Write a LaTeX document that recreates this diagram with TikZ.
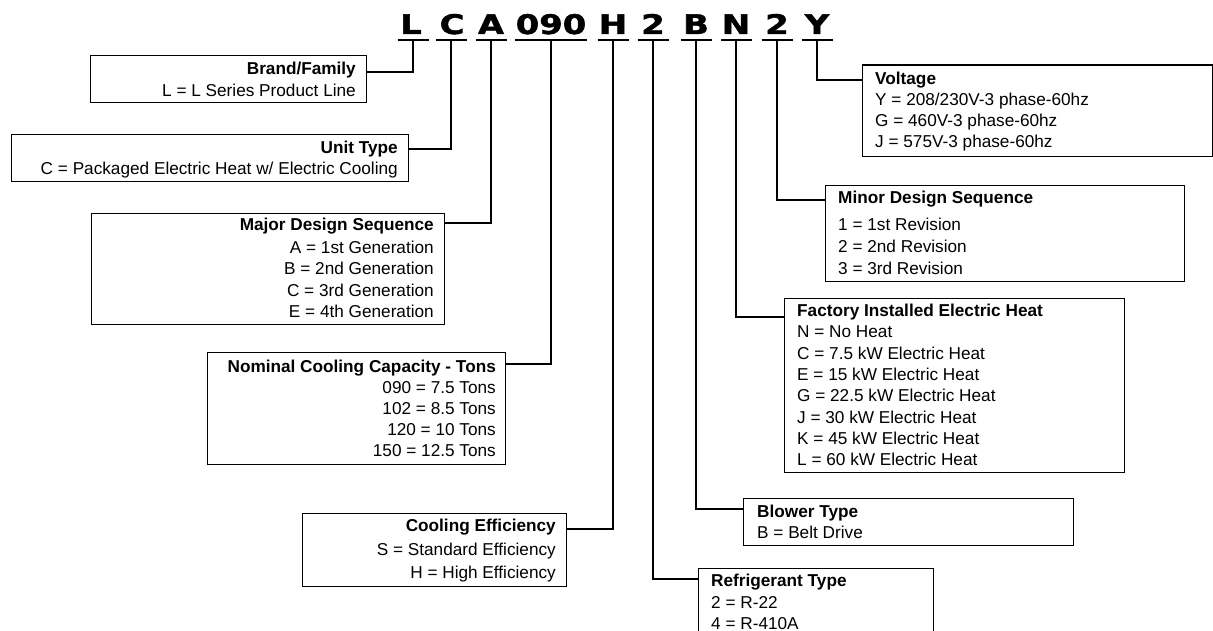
\documentclass[tikz,border=0pt]{standalone}
\usepackage{fontspec}
\setmainfont{Liberation Sans}
\newfontfamily\codefont[BoldFeatures={FakeBold=1.6}]{DejaVu Sans}
\begin{document}
\begin{tikzpicture}[x=1pt,y=-1pt,
  box/.style={draw, line width=1.3pt, rectangle, inner sep=0pt, anchor=north west},
  tl/.style={inner sep=0pt, font=\fontsize{17.2}{20}\selectfont\bfseries},
  rw/.style={inner sep=0pt, font=\fontsize{17.2}{20}\selectfont},
  lt/.style={anchor=base east},
  rt/.style={anchor=base west},
  codeletter/.style={inner sep=0pt, anchor=base, font=\fontsize{27}{30}\selectfont\codefont\bfseries},
  uline/.style={line width=2pt},
  conn/.style={line width=2pt},
]
\useasboundingbox (0,0) rectangle (1213,631);
\clip (0,0) rectangle (1213,631);

% code letters
\node[codeletter] (cL) at (411,34) {\scalebox{1.25}[1]{L}};
\node[codeletter] (cC) at (452,34) {\scalebox{1.25}[1]{C}};
\node[codeletter] (cA) at (491,34) {\scalebox{1.25}[1]{A}};
\node[codeletter] (c090) at (551,34) {\scalebox{1.25}[1]{090}};
\node[codeletter] (cH) at (613,34) {\scalebox{1.25}[1]{H}};
\node[codeletter] (c2a) at (653,34) {\scalebox{1.25}[1]{2}};
\node[codeletter] (cB) at (696,34) {\scalebox{1.25}[1]{B}};
\node[codeletter] (cN) at (736,34) {\scalebox{1.25}[1]{N}};
\node[codeletter] (c2b) at (777,34) {\scalebox{1.25}[1]{2}};
\node[codeletter] (cY) at (817,34) {\scalebox{1.25}[1]{Y}};

% underline anchor points
\coordinate (uL) at (413,40);
\coordinate (uC) at (451,40);
\coordinate (uA) at (491,40);
\coordinate (u090) at (551,40);
\coordinate (uH) at (613,40);
\coordinate (u2a) at (653,40);
\coordinate (uB) at (696,40);
\coordinate (uN) at (736,40);
\coordinate (u2b) at (777,40);
\coordinate (uY) at (817,40);

\foreach \u in {uL,uC,uA,uH,u2a,uB,uN,u2b,uY}{
  \draw[uline] ([xshift=-15.5pt]\u) -- ([xshift=15.5pt]\u);
}
\draw[uline] ([xshift=-36pt]u090) -- ([xshift=36pt]u090);

% boxes left
\node[box, minimum width=276pt, minimum height=47pt] (brand) at (90,55) {};
\node[tl,lt] (brandT) at (356,74.5) {Brand/Family};
\node[rw,lt] (brand1) at (356,96.5) {L = L Series Product Line};

\node[box, minimum width=397pt, minimum height=47pt] (unit) at (11,134) {};
\node[tl,lt] (unitT) at (398,153.5) {Unit Type};
\node[rw,lt] (unit1) at (398,174.5) {C = Packaged Electric Heat w/ Electric Cooling};

\node[box, minimum width=353pt, minimum height=111pt] (major) at (91,213) {};
\node[tl,lt] (majorT) at (434,230.5) {Major Design Sequence};
\node[rw,lt] (major1) at (434,253.5) {A = 1st Generation};
\node[rw,lt] (major2) at (434,274.5) {B = 2nd Generation};
\node[rw,lt] (major3) at (434,296.5) {C = 3rd Generation};
\node[rw,lt] (major4) at (434,317.5) {E = 4th Generation};

\node[box, minimum width=298pt, minimum height=112pt] (nom) at (207,352) {};
\node[tl,lt] (nomT) at (496,372.5) {Nominal Cooling Capacity - Tons};
\node[rw,lt] (nom1) at (496,393.5) {090 = 7.5 Tons};
\node[rw,lt] (nom2) at (496,414.5) {102 = 8.5 Tons};
\node[rw,lt] (nom3) at (496,435.5) {120 = 10 Tons};
\node[rw,lt] (nom4) at (496,456.5) {150 = 12.5 Tons};

\node[box, minimum width=264pt, minimum height=73pt] (eff) at (302,513) {};
\node[tl,lt] (effT) at (556,531.5) {Cooling Efficiency};
\node[rw,lt] (eff1) at (556,555.5) {S = Standard Efficiency};
\node[rw,lt] (eff2) at (556,578.5) {H = High Efficiency};

% boxes right
\node[box, minimum width=350pt, minimum height=91.5pt] (volt) at (862,64.5) {};
\node[tl,rt] (voltT) at (875,84.5) {Voltage};
\node[rw,rt] (volt1) at (875,106) {Y = 208/230V-3 phase-60hz};
\node[rw,rt] (volt2) at (875,127) {G = 460V-3 phase-60hz};
\node[rw,rt] (volt3) at (875,148) {J = 575V-3 phase-60hz};

\node[box, minimum width=359pt, minimum height=96pt] (minor) at (825,185) {};
\node[tl,rt] (minorT) at (838,203.5) {Minor Design Sequence};
\node[rw,rt] (minor1) at (838,230.5) {1 = 1st Revision};
\node[rw,rt] (minor2) at (838,252.5) {2 = 2nd Revision};
\node[rw,rt] (minor3) at (838,274) {3 = 3rd Revision};

\node[box, minimum width=340pt, minimum height=174pt] (heat) at (784,298) {};
\node[tl,rt] (heatT) at (797,316.5) {Factory Installed Electric Heat};
\node[rw,rt] (heat1) at (797,337.8) {N = No Heat};
\node[rw,rt] (heat2) at (797,359.1) {C = 7.5 kW Electric Heat};
\node[rw,rt] (heat3) at (797,380.4) {E = 15 kW Electric Heat};
\node[rw,rt] (heat4) at (797,401.7) {G = 22.5 kW Electric Heat};
\node[rw,rt] (heat5) at (797,423) {J = 30 kW Electric Heat};
\node[rw,rt] (heat6) at (797,444.3) {K = 45 kW Electric Heat};
\node[rw,rt] (heat7) at (797,465.6) {L = 60 kW Electric Heat};

\node[box, minimum width=330pt, minimum height=47pt] (blow) at (743,498) {};
\node[tl,rt] (blowT) at (757,517.5) {Blower Type};
\node[rw,rt] (blow1) at (757,538.5) {B = Belt Drive};

\node[box, minimum width=235pt, minimum height=100pt] (ref) at (698,568) {};
\node[tl,rt] (refT) at (711,586.5) {Refrigerant Type};
\node[rw,rt] (ref1) at (711,608.5) {2 = R-22};
\node[rw,rt] (ref2) at (711,629.5) {4 = R-410A};

% connectors
\draw[conn] (uL) |- ([yshift=-17pt]brand.north east);
\draw[conn] (uC) |- ([yshift=-15pt]unit.north east);
\draw[conn] (uA) |- ([yshift=-10pt]major.north east);
\draw[conn] (u090) |- ([yshift=-12pt]nom.north east);
\draw[conn] (uH) |- ([yshift=-16pt]eff.north east);
\draw[conn] (uY) |- ([yshift=-15.5pt]volt.north west);
\draw[conn] (u2b) |- ([yshift=-15pt]minor.north west);
\draw[conn] (uN) |- ([yshift=-19pt]heat.north west);
\draw[conn] (uB) |- ([yshift=-11pt]blow.north west);
\draw[conn] (u2a) |- ([yshift=-11pt]ref.north west);
\end{tikzpicture}
\end{document}
